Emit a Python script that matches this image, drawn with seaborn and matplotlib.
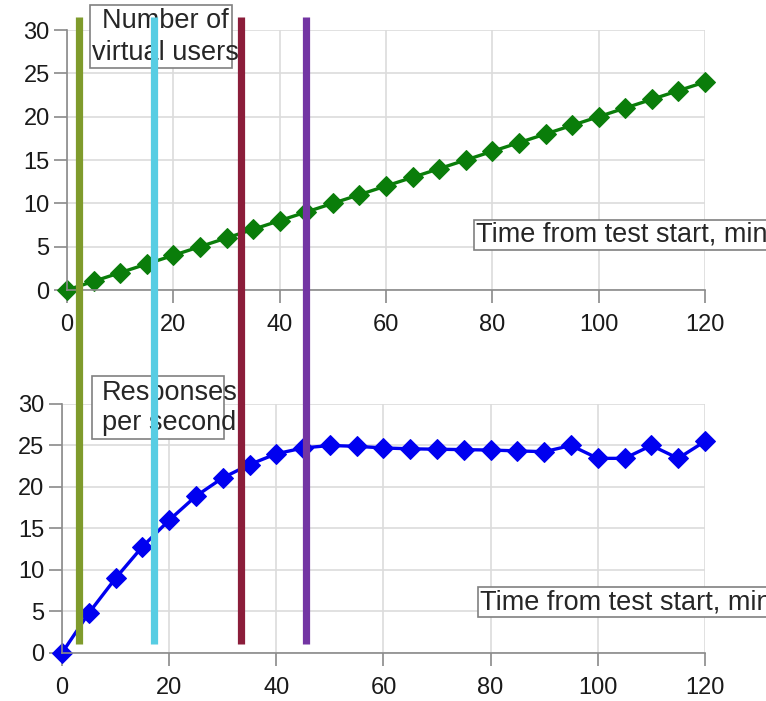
import matplotlib
matplotlib.use("Agg")
import matplotlib.pyplot as plt
import matplotlib.transforms as mtransforms
from matplotlib.lines import Line2D
from matplotlib.patches import Rectangle
import seaborn as sns
import pandas as pd

# minutes from test start
minutes = [0, 5, 10, 15, 20, 25, 30, 35, 40, 45, 50, 55, 60,
           65, 70, 75, 80, 85, 90, 95, 100, 105, 110, 115, 120]

virtual_users = [0, 1, 2, 3, 4, 5, 6, 7, 8, 9, 10, 11, 12,
                 13, 14, 15, 16, 17, 18, 19, 20, 21, 22, 23, 24]

responses_per_sec = [0, 4.8, 9.0, 12.8, 16.0, 18.9, 21.1, 22.7, 24.0, 24.7, 25.0, 24.9, 24.7,
                     24.6, 24.55, 24.5, 24.45, 24.35, 24.25, 25.0, 23.45, 23.45, 25.0, 23.45, 25.5]

# event markers (minutes) and their colours
event_times = [2.2, 16.4, 32.7, 45.0]
event_colors = ["#7f9b2c", "#57cde3", "#8b1d3a", "#7335a3"]

df = pd.DataFrame({"t": minutes, "vu": virtual_users, "rps": responses_per_sec})

sns.set_style("white")
plt.rcParams["font.family"] = ["Liberation Sans", "DejaVu Sans"]

W, H = 766, 701
fig = plt.figure(figsize=(W / 100, H / 100), dpi=100)
ax1 = fig.add_axes([0.0875, 0.5863, 0.8329, 0.3709])
ax2 = fig.add_axes([0.0809, 0.0685, 0.8394, 0.3552])

grid_c = "#dcdcdc"
spine_c = "#8a8a8a"

def style_axis(ax):
    ax.set_xlim(0, 120)
    ax.set_ylim(0, 30)
    ax.set_xticks(range(0, 121, 20))
    ax.set_yticks(range(0, 31, 5))
    ax.grid(True, color=grid_c, linewidth=1.2)
    ax.set_axisbelow(True)
    for s in ["top", "right"]:
        ax.spines[s].set_visible(False)
    for s in ["left", "bottom"]:
        ax.spines[s].set_color(spine_c)
        ax.spines[s].set_linewidth(1.2)
    ax.tick_params(axis="both", direction="out", length=9.5, width=1.2,
                   color=spine_c, labelsize=17, labelcolor="#1a1a1a",
                   left=True, bottom=True)
    ax.tick_params(axis="y", pad=3)
    ax.tick_params(axis="x", pad=8)
    ax.set_xlabel("")
    ax.set_ylabel("")

sns.lineplot(data=df, x="t", y="vu", ax=ax1, color="#0a7d0a", linewidth=2.4,
             marker="D", markersize=10.5, markeredgecolor="#0a7d0a", clip_on=False)
sns.lineplot(data=df, x="t", y="rps", ax=ax2, color="#0000f0", linewidth=2.4,
             marker="D", markersize=10.5, markeredgecolor="#0000f0", clip_on=False)
style_axis(ax1)
style_axis(ax2)

# label boxes, placed in pixels from the top-left corner
def label_box(x0, y0, x1, y1):
    fig.add_artist(Rectangle((x0 / W, 1 - y1 / H), (x1 - x0) / W, (y1 - y0) / H,
                             transform=fig.transFigure, facecolor="white",
                             edgecolor="#808080", linewidth=1.2, zorder=3))

label_box(90, 5, 232, 68)
fig.text(165 / W, 1 - 8 / H, "Number of\nvirtual users", ha="center", va="top",
         multialignment="center", fontsize=19.5, linespacing=1.3, zorder=4)
label_box(92, 376, 224, 439)
fig.text(102 / W, 1 - 380 / H, "Responses\nper second", ha="left", va="top",
         multialignment="left", fontsize=19.5, linespacing=1.2, zorder=4)

box = dict(boxstyle="square,pad=0.08", facecolor="white", edgecolor="#808080", linewidth=1.2)
fig.text(0.622, 0.665, "Time from test start, min", ha="left", va="center",
         fontsize=19.5, bbox=box)
fig.text(0.627, 0.141, "Time from test start, min", ha="left", va="center",
         fontsize=19.5, bbox=box)

# event lines span both panels
trans = mtransforms.blended_transform_factory(ax1.transData, fig.transFigure)
for t, c in zip(event_times, event_colors):
    fig.add_artist(Line2D([t, t], [0.0813, 0.9757], transform=trans, color=c,
                          linewidth=5.2, solid_capstyle="butt", zorder=10))

fig.savefig("out.png", dpi=100)
